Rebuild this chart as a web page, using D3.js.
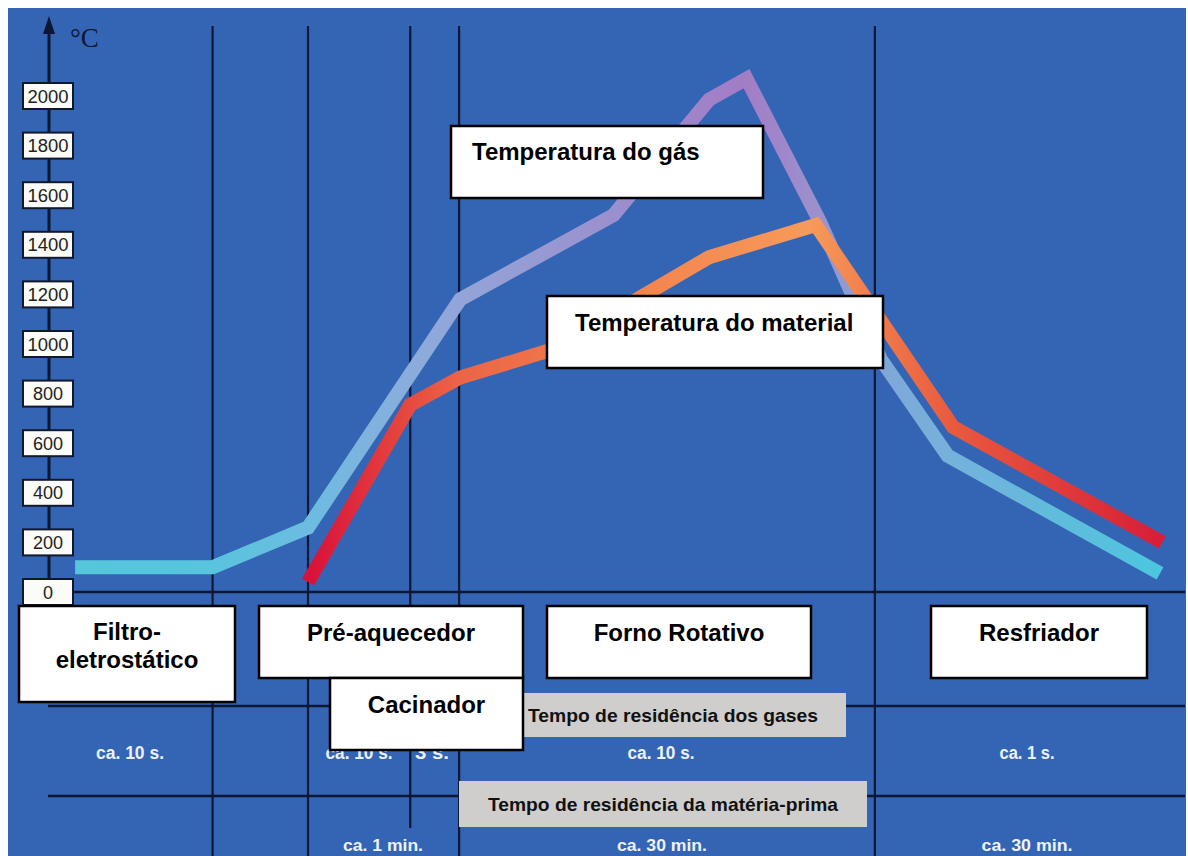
<!DOCTYPE html>
<html>
<head>
<meta charset="utf-8">
<script src="https://cdn.jsdelivr.net/npm/d3@7"></script>
<style>
  body { margin: 0; background: #fff; }
  svg { display: block; }
</style>
</head>
<body>
<svg></svg>
<script>
// temperature axis ticks (°C)
const tempTicks = [0, 200, 400, 600, 800, 1000, 1200, 1400, 1600, 1800, 2000];

// process position (0..100 along the plant) of the stage boundaries
const zoneEdges = [14.4, 22.8, 31.8, 36.1, 72.7];

// gas temperature along the plant
const gasPos  = [2.3, 14.4, 22.8, 36.2, 49.7, 58.1, 61.4, 67.9, 73.2, 79.1, 97.8];
const gasTemp = [100, 100, 260, 1180, 1520, 1985, 2070, 1490, 940, 550, 75];

// material temperature along the plant
const matPos  = [22.8, 31.8, 36.2, 44.1, 58.1, 67.5, 79.6, 98.0];
const matTemp = [40, 755, 865, 975, 1350, 1480, 665, 200];

// residence times
const gasTimes = ["ca. 10 s.", "ca. 10 s.", "3 s.", "ca. 10 s.", "ca. 1 s."];
const matTimes = ["ca. 1 min.", "ca. 30 min.", "ca. 30 min."];

const W = 1188, H = 856;
const svg = d3.select("svg").attr("width", W).attr("height", H);

const x = d3.scaleLinear().domain([0, 100]).range([49, 1185]);
const y = d3.scaleLinear().domain([0, 2000]).range([592, 96]);

const ink = "#0c1733";
const font = "'Liberation Sans', Arial, sans-serif";

// background
svg.append("rect")
  .attr("x", 8).attr("y", 8)
  .attr("width", W - 10).attr("height", H - 8)
  .attr("fill", "#3465b5");

// stage dividers
svg.selectAll("line.zone")
  .data(zoneEdges)
  .enter()
  .append("line")
  .attr("class", "zone")
  .attr("x1", d => x(d)).attr("x2", d => x(d))
  .attr("y1", 26)
  .attr("y2", (d, i) => i === 2 ? 828 : H)
  .attr("stroke", ink).attr("stroke-width", 2.2);

// baseline at 0 °C
svg.append("line")
  .attr("x1", x(0)).attr("x2", x(100))
  .attr("y1", y(0)).attr("y2", y(0))
  .attr("stroke", ink).attr("stroke-width", 2.5);

// row separators for residence times
[706, 796].forEach(ry => {
  svg.append("line")
    .attr("x1", 48).attr("x2", x(100))
    .attr("y1", ry).attr("y2", ry)
    .attr("stroke", ink).attr("stroke-width", 2.5);
});

// y axis with arrow
svg.append("line")
  .attr("x1", 49).attr("x2", 49)
  .attr("y1", 30).attr("y2", y(0))
  .attr("stroke", ink).attr("stroke-width", 3);
svg.append("path")
  .attr("d", "M49,16 L43,34 L55,34 Z")
  .attr("fill", ink);
svg.append("text")
  .attr("x", 70).attr("y", 47)
  .attr("font-family", "'Liberation Serif', 'Times New Roman', serif")
  .attr("font-size", 27)
  .attr("fill", ink)
  .text("°C");

const tickG = svg.selectAll("g.tick")
  .data(tempTicks)
  .enter()
  .append("g")
  .attr("class", "tick")
  .attr("transform", d => `translate(48, ${y(d)})`);

tickG.append("rect")
  .attr("x", -25).attr("y", -13)
  .attr("width", 50).attr("height", 26)
  .attr("fill", "#fbfbf7")
  .attr("stroke", "#10182c").attr("stroke-width", 2);

tickG.append("text")
  .attr("y", 6.5)
  .attr("text-anchor", "middle")
  .attr("font-family", font)
  .attr("font-size", 18)
  .attr("fill", "#222")
  .attr("textLength", d => d >= 1000 ? 41 : null)
  .attr("lengthAdjust", "spacingAndGlyphs")
  .text(d => d);

// gradients along the curves
const defs = svg.append("defs");
function gradient(id, stops) {
  const g = defs.append("linearGradient")
    .attr("id", id)
    .attr("gradientUnits", "userSpaceOnUse")
    .attr("x1", x(0)).attr("x2", x(100))
    .attr("y1", 0).attr("y2", 0);
  g.selectAll("stop")
    .data(stops)
    .enter()
    .append("stop")
    .attr("offset", d => d[0] / 100)
    .attr("stop-color", d => d[1]);
}
gradient("gasGrad", [
  [2, "#55c6dc"], [14, "#58c4de"], [23, "#6dbce0"], [31, "#88aedc"],
  [36, "#93a5d8"], [50, "#9b8fcd"], [61, "#a37cc6"], [68, "#9b92cd"],
  [73, "#80a6d8"], [79, "#76b1da"], [98, "#4cc6de"]
]);
gradient("matGrad", [
  [23, "#d8123a"], [31, "#e5453e"], [36, "#ec6446"], [52, "#f3844e"],
  [67, "#f79a5a"], [73, "#f07a4a"], [80, "#e8583e"], [98, "#d71e38"]
]);

const lineGenerator = d3.line()
  .x(d => x(d[0]))
  .y(d => y(d[1]));

svg.append("path")
  .datum(d3.zip(gasPos, gasTemp))
  .attr("d", lineGenerator)
  .attr("fill", "none")
  .attr("stroke", "url(#gasGrad)")
  .attr("stroke-width", 14)
  .attr("stroke-linejoin", "miter");

svg.append("path")
  .datum(d3.zip(matPos, matTemp))
  .attr("d", lineGenerator)
  .attr("fill", "none")
  .attr("stroke", "url(#matGrad)")
  .attr("stroke-width", 14)
  .attr("stroke-linejoin", "miter");

// residence time texts
const gasTimeX = [130, 359, 432, 661, 1027];
const gasTimeW = [68, 67, 34, 67, 55];
svg.selectAll("text.gtime")
  .data(gasTimes)
  .enter()
  .append("text")
  .attr("class", "gtime")
  .attr("x", (d, i) => gasTimeX[i])
  .attr("y", 759)
  .attr("text-anchor", "middle")
  .attr("font-family", font)
  .attr("font-weight", "bold")
  .attr("font-size", 18)
  .attr("fill", "#eef2fa")
  .attr("textLength", (d, i) => gasTimeW[i])
  .attr("lengthAdjust", "spacingAndGlyphs")
  .text(d => d);

const matTimeX = [383, 662, 1027];
const matTimeW = [80, 90, 91];
svg.selectAll("text.mtime")
  .data(matTimes)
  .enter()
  .append("text")
  .attr("class", "mtime")
  .attr("x", (d, i) => matTimeX[i])
  .attr("y", 851)
  .attr("text-anchor", "middle")
  .attr("font-family", font)
  .attr("font-weight", "bold")
  .attr("font-size", 17)
  .attr("fill", "#eef2fa")
  .attr("textLength", (d, i) => matTimeW[i])
  .attr("lengthAdjust", "spacingAndGlyphs")
  .text(d => d);

// grey row headers
const headers = [
  { text: "Tempo de residência dos gases", x: 520, y: 693, w: 326, h: 44, tx: 528, tw: 290 },
  { text: "Tempo de residência da matéria-prima", x: 459, y: 781, w: 408, h: 46, tx: 488, tw: 350 }
];
headers.forEach(h => {
  svg.append("rect")
    .attr("x", h.x).attr("y", h.y)
    .attr("width", h.w).attr("height", h.h)
    .attr("fill", "#cfcecc");
  svg.append("text")
    .attr("x", h.tx).attr("y", h.y + h.h / 2 + 7)
    .attr("font-family", font)
    .attr("font-weight", "bold")
    .attr("font-size", 19)
    .attr("fill", "#111")
    .attr("textLength", h.tw)
    .attr("lengthAdjust", "spacingAndGlyphs")
    .text(h.text);
});

// white label boxes
const labels = [
  { lines: ["Temperatura do gás"], x: 451, y: 126, w: 312, h: 72, anchor: "start", tx: 472, ty: [160] },
  { lines: ["Temperatura do material"], x: 547, y: 296, w: 336, h: 72, anchor: "start", tx: 575, ty: [331] },
  { lines: ["Filtro-", "eletrostático"], x: 19, y: 606, w: 216, h: 96, anchor: "middle", ty: [640, 668] },
  { lines: ["Pré-aquecedor"], x: 259, y: 606, w: 264, h: 72, anchor: "middle", ty: [641] },
  { lines: ["Cacinador"], x: 330, y: 678, w: 193, h: 72, anchor: "middle", ty: [713] },
  { lines: ["Forno Rotativo"], x: 547, y: 606, w: 264, h: 72, anchor: "middle", ty: [641] },
  { lines: ["Resfriador"], x: 931, y: 606, w: 216, h: 72, anchor: "middle", ty: [641] }
];
labels.forEach(l => {
  svg.append("rect")
    .attr("x", l.x).attr("y", l.y)
    .attr("width", l.w).attr("height", l.h)
    .attr("fill", "#fff")
    .attr("stroke", "#000").attr("stroke-width", 2.5);
  l.lines.forEach((t, i) => {
    svg.append("text")
      .attr("x", l.anchor === "start" ? l.tx : l.x + l.w / 2)
      .attr("y", l.ty[i])
      .attr("text-anchor", l.anchor)
      .attr("font-family", font)
      .attr("font-weight", "bold")
      .attr("font-size", 24)
      .attr("fill", "#000")
      .text(t);
  });
});
</script>
</body>
</html>
